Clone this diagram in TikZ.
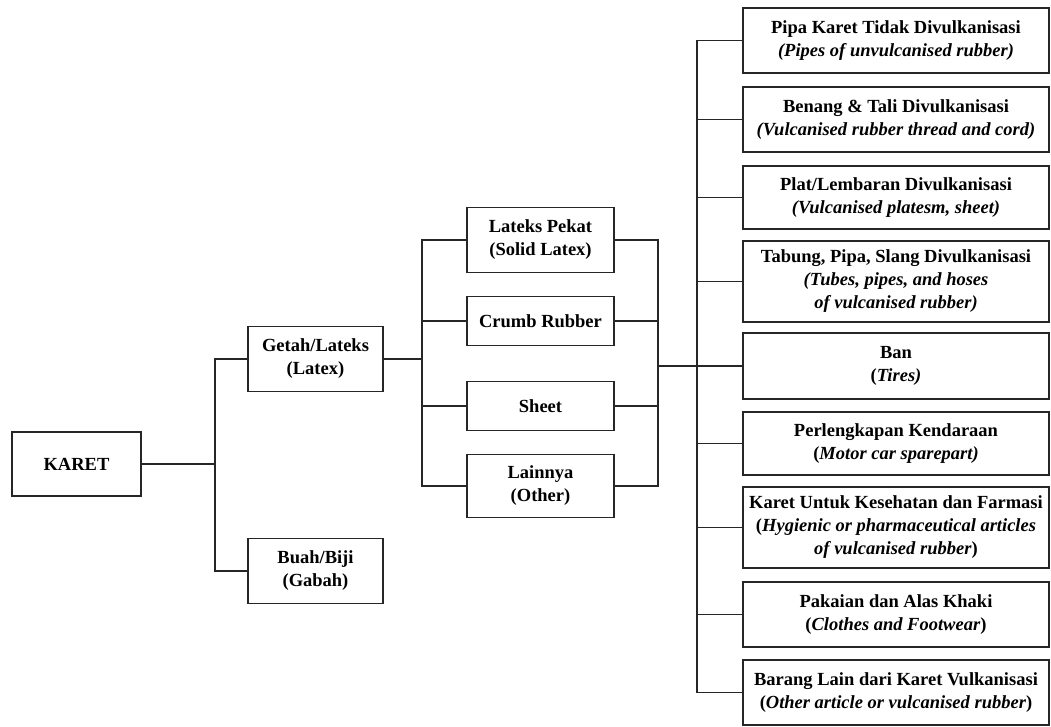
\documentclass[tikz,border=0pt]{standalone}
\usepackage{fontspec}
\setmainfont{Liberation Serif}

\begin{document}
\begin{tikzpicture}[x=1pt, y=-1pt, line width=1.2pt, color=black!85,
      every node/.append style={draw, align=center, inner sep=0pt,
        font=\fontsize{18.5}{23}\selectfont\bfseries, text=black}]
	  \tikzstyle{root} = [minimum width=129pt, minimum height=64pt]
	  \tikzstyle{source} = [minimum width=135pt, minimum height=65pt]
	  \tikzstyle{product} = [minimum width=147pt]
	  \tikzstyle{goods} = [minimum width=306pt]
	  \useasboundingbox (0,0) rectangle (1051,726);
	  \node (0_1) [root] at (76.5,464) {KARET};
	  \node (1_1) [source] at (315.5,359) {Getah/Lateks\\(Latex)};
	  \node (1_2) [source] at (315.5,571) {Buah/Biji\\(Gabah)};
	  \node (2_1) [product, minimum height=65pt] at (540.5,240) {Lateks Pekat\\(Solid Latex)};
	  \node (2_2) [product, minimum height=49pt] at (540.5,321) {Crumb Rubber};
	  \node (2_3) [product, minimum height=49pt] at (540.5,406) {Sheet};
	  \node (2_4) [product, minimum height=63pt] at (540.5,486) {Lainnya\\(Other)};
	  \node (3_1) [goods, minimum height=65pt] at (896,40.5) {Pipa Karet Tidak Divulkanisasi\\\textit{(Pipes of unvulcanised rubber)}};
	  \node (3_2) [goods, minimum height=65pt] at (896,119.5) {Benang \& Tali Divulkanisasi\\\textit{(Vulcanised rubber thread and cord)}};
	  \node (3_3) [goods, minimum height=63pt] at (896,197.5) {Plat/Lembaran Divulkanisasi\\\textit{(Vulcanised platesm, sheet)}};
	  \node (3_4) [goods, minimum height=81pt] at (896,281.5) {Tabung, Pipa, Slang Divulkanisasi\\\textit{(Tubes, pipes, and hoses}\\\textit{of vulcanised rubber)}};
	  \node (3_5) [goods, minimum height=66pt] at (896,366) {Ban\\(\textit{Tires)}};
	  \node (3_6) [goods, minimum height=63pt] at (896,443.5) {Perlengkapan Kendaraan\\(\textit{Motor car sparepart)}};
	  \node (3_7) [goods, minimum height=81pt] at (896,527.5) {Karet Untuk Kesehatan dan Farmasi\\(\textit{Hygienic or pharmaceutical articles}\\\textit{of vulcanised rubber})};
	  \node (3_8) [goods, minimum height=65pt] at (896,614.5) {Pakaian dan Alas Khaki\\(\textit{Clothes and Footwear})};
	  \node (3_9) [goods, minimum height=65pt] at (896,692.5) {Barang Lain dari Karet Vulkanisasi\\(\textit{Other article or vulcanised rubber})};
	  \coordinate (j_1) at (215,464);
	  \coordinate (j_2) at (422,359);
	  \coordinate (j_3) at (658,366);
	  \coordinate (j_4) at (697,366);
	  \draw (0_1) -- (j_1);
	  \draw (j_1) |- (1_1);
	  \draw (j_1) |- (1_2);
	  \draw (1_1) -- (j_2);
	  \draw (j_2) |- (2_1);
	  \draw (j_2) |- (2_2);
	  \draw (j_2) |- (2_3);
	  \draw (j_2) |- (2_4);
	  \draw (2_1) -| (j_3);
	  \draw (2_2) -| (j_3);
	  \draw (2_3) -| (j_3);
	  \draw (2_4) -| (j_3);
	  \draw (j_3) -- (j_4);
	  \draw (j_4) |- (3_1);
	  \draw (j_4) |- (3_2);
	  \draw (j_4) |- (3_3);
	  \draw (j_4) |- (3_4);
	  \draw (j_4) |- (3_5);
	  \draw (j_4) |- (3_6);
	  \draw (j_4) |- (3_7);
	  \draw (j_4) |- (3_8);
	  \draw (j_4) |- (3_9);
	\end{tikzpicture}
\end{document}
